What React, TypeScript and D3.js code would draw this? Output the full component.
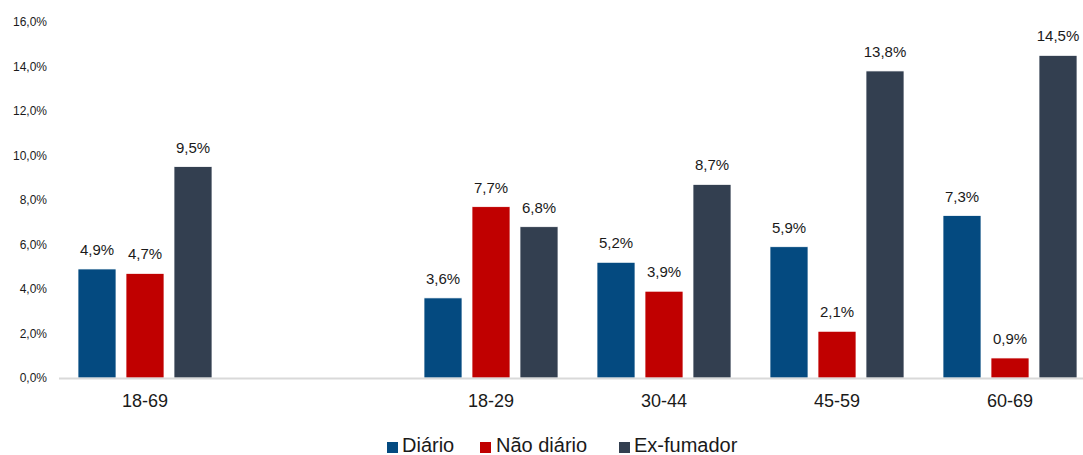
import React from "react";
import * as d3 from "d3";

const categories = ["18-69", "", "18-29", "30-44", "45-59", "60-69"];
const series = ["Diário", "Não diário", "Ex-fumador"];
const diario = [4.9, null, 3.6, 5.2, 5.9, 7.3];
const naoDiario = [4.7, null, 7.7, 3.9, 2.1, 0.9];
const exFumador = [9.5, null, 6.8, 8.7, 13.8, 14.5];
const colors = ["#044A80", "#C00000", "#333F50"];
const yTicks = [0, 2, 4, 6, 8, 10, 12, 14, 16];

const W = 1083;
const H = 455;
const FONT = "'Liberation Sans', Arial, sans-serif";

const fmt = (v: number) => v.toFixed(1).replace(".", ",") + "%";

export default function App() {
  const values = [diario, naoDiario, exFumador];
  const x0 = d3.scaleBand<string>().domain(categories.map((c, i) => i + ":" + c)).range([58.5, 58.5 + 6 * 173]).padding(0);
  const groupW = 134;
  const x1 = d3.scaleBand<string>().domain(series).range([0, groupW]).paddingInner(10 / 48).paddingOuter(0);
  const y = d3.scaleLinear().domain([0, 16]).range([378, 22]);
  const keys = x0.domain();

  const legendItems = [
    { label: series[0], mx: 387, tx: 402 },
    { label: series[1], mx: 480, tx: 496 },
    { label: series[2], mx: 619, tx: 634 },
  ];

  return (
    <svg width={W} height={H} style={{ position: "absolute", left: 0, top: 0, background: "#fff" }}>
      {yTicks.map((t) => (
        <text key={t} x={47} y={y(t)} dy="0.35em" textAnchor="end" fontFamily={FONT} fontSize={12} fill="#1a1a1a">
          {fmt(t)}
        </text>
      ))}
      {keys.map((k, ci) => {
        const off = x0(k)! + (x0.bandwidth() - groupW) / 2;
        return (
          <g key={k}>
            {series.map((s, si) => {
              const v = values[si][ci];
              if (v == null) return null;
              const bx = off + x1(s)!;
              const by = y(v);
              return (
                <g key={s}>
                  <rect x={bx} y={by} width={x1.bandwidth()} height={y(0) - by} fill={colors[si]} stroke="#ffffff" strokeWidth={0.75} />
                  <text x={bx + x1.bandwidth() / 2} y={by - 14} textAnchor="middle" fontFamily={FONT} fontSize={15} fill="#1a1a1a">
                    {fmt(v)}
                  </text>
                </g>
              );
            })}
            {categories[ci] && (
              <text x={x0(k)! + x0.bandwidth() / 2} y={407} textAnchor="middle" fontFamily={FONT} fontSize={18} fill="#1a1a1a">
                {categories[ci]}
              </text>
            )}
          </g>
        );
      })}
      <line x1={59} x2={W} y1={378.5} y2={378.5} stroke="#D9D9D9" strokeWidth={2} />
      {legendItems.map((it, i) => (
        <g key={it.label}>
          <rect x={it.mx} y={442} width={11} height={11} fill={colors[i]} />
          <text x={it.tx} y={452} fontFamily={FONT} fontSize={20} fill="#1a1a1a">
            {it.label}
          </text>
        </g>
      ))}
    </svg>
  );
}
